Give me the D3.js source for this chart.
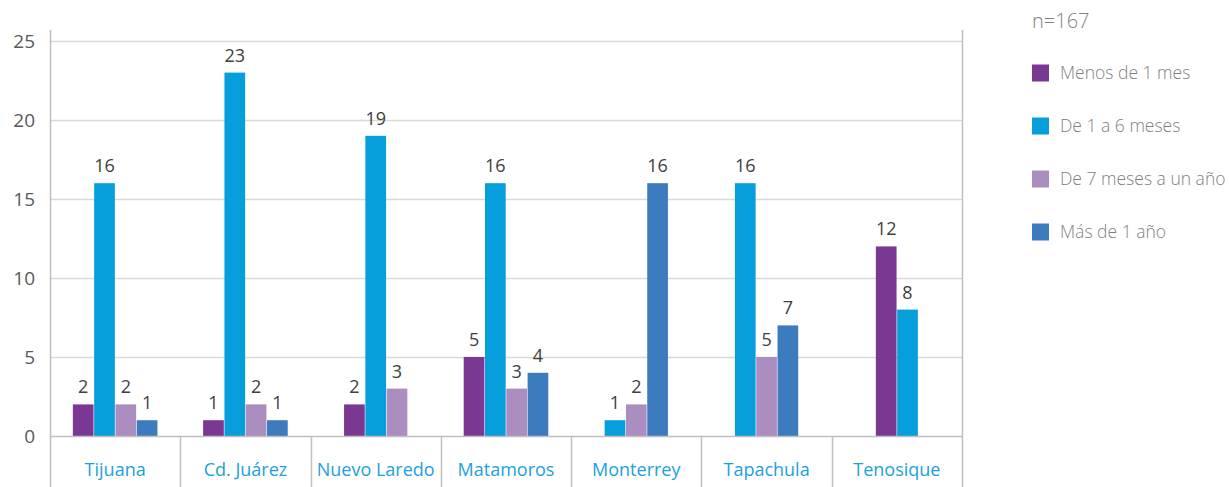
<!DOCTYPE html>
<html><head><meta charset="utf-8">
<script src="https://cdn.jsdelivr.net/npm/d3@7/dist/d3.min.js"></script>
<style>body{margin:0;background:#fff}svg{display:block}text{font-family:"Open Sans","Noto Sans",sans-serif}</style>
</head><body><svg id="c" width="1229" height="487"></svg>
<script>
const categories = ["Tijuana","Cd. Juárez","Nuevo Laredo","Matamoros","Monterrey","Tapachula","Tenosique"];
const seriesNames = ["Menos de 1 mes","De 1 a 6 meses","De 7 meses a un año","Más de 1 año"];
const menos1 = [2,1,2,5,null,null,12];
const de1a6 = [16,23,19,16,1,16,8];
const de7a12 = [2,2,3,3,2,5,null];
const mas1 = [1,1,null,4,16,7,null];
const yTicks = [0,5,10,15,20,25];
const colors = ["#7B3893","#069FDC","#AC8DC0","#3D7BBF"];
const nLabel = "n=167";

const seriesVals = [menos1,de1a6,de7a12,mas1];
const svg = d3.select("#c");
const L=50,R=962,T=30,B=487;
const y = d3.scaleLinear().domain([0,25]).range([436,41]);
const x = d3.scaleBand().domain(categories).range([L,R]).padding(0);
const barW = 21.3;

svg.append("g").selectAll("line").data(yTicks.filter(d=>d>0)).join("line")
  .attr("x1",L).attr("x2",R).attr("y1",d=>Math.round(y(d))+0.5).attr("y2",d=>Math.round(y(d))+0.5)
  .attr("stroke","#d9d9d9").attr("stroke-width",1.3);
svg.append("line").attr("x1",L+0.5).attr("x2",L+0.5).attr("y1",T).attr("y2",B).attr("stroke","#bfbfbf").attr("stroke-width",1.5);
svg.append("line").attr("x1",R+0.5).attr("x2",R+0.5).attr("y1",T).attr("y2",B).attr("stroke","#bfbfbf").attr("stroke-width",1.5);
svg.append("g").selectAll("line").data(categories.slice(1)).join("line")
  .attr("x1",d=>Math.round(x(d))+0.5).attr("x2",d=>Math.round(x(d))+0.5).attr("y1",y(0)).attr("y2",B)
  .attr("stroke","#bfbfbf").attr("stroke-width",1.5);

svg.append("g").selectAll("text").data(yTicks).join("text")
  .attr("x",35).attr("y",d=>y(d)).attr("dy","0.35em").attr("text-anchor","end")
  .attr("font-size",19).attr("fill","#595959").text(d=>d);

categories.forEach((c,i)=>{
  const present = seriesVals.map((s,k)=>({k,v:s[i]})).filter(d=>d.v!=null);
  const cx = x(c)+x.bandwidth()/2;
  const inner = d3.scaleBand().domain(present.map(d=>d.k)).range([cx-barW*present.length/2, cx+barW*present.length/2]);
  const g = svg.append("g");
  g.selectAll("rect").data(present).join("rect")
    .attr("x",d=>inner(d.k)+0.3).attr("width",inner.bandwidth()-0.6)
    .attr("y",d=>y(d.v)).attr("height",d=>y(0)-y(d.v)).attr("fill",d=>colors[d.k]);
  g.selectAll("text").data(present).join("text")
    .attr("x",d=>inner(d.k)+inner.bandwidth()/2).attr("y",d=>y(d.v)-11)
    .attr("text-anchor","middle").attr("font-size",18).attr("fill","#404040").text(d=>d.v);
});
svg.append("line").attr("x1",L).attr("x2",R).attr("y1",y(0)+0.5).attr("y2",y(0)+0.5).attr("stroke","#bfbfbf").attr("stroke-width",1.5);

svg.append("g").selectAll("text").data(categories).join("text")
  .attr("x",d=>x(d)+x.bandwidth()/2).attr("y",470).attr("dy","0.35em").attr("text-anchor","middle")
  .attr("font-size",18).attr("fill","#1BA1DD").text(d=>d);

svg.append("text").attr("x",1032).attr("y",21).attr("dy","0.35em").attr("font-size",20).attr("font-weight",300).attr("fill","#7f7f7f").text(nLabel);
const ly = [73,126,179,232];
const lg = svg.append("g").selectAll("g").data(seriesNames).join("g");
lg.append("rect").attr("x",1032).attr("y",(d,i)=>ly[i]-8.5).attr("width",17).attr("height",17).attr("fill",(d,i)=>colors[i]);
lg.append("text").attr("x",1060).attr("y",(d,i)=>ly[i]).attr("dy","0.35em").attr("font-size",17.5).attr("font-weight",300).attr("fill","#7f7f7f").text(d=>d);
</script></body></html>
